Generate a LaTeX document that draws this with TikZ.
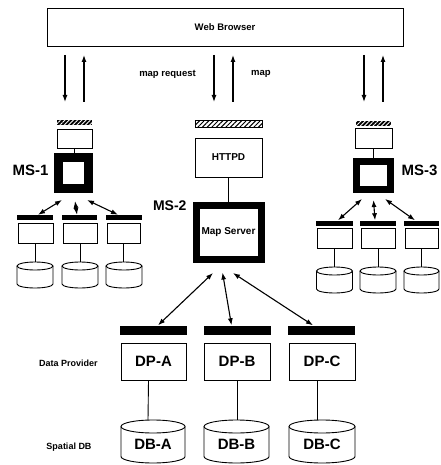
\documentclass[tikz,border=0pt]{standalone}
\usepackage{fontspec}
\setmainfont{Liberation Sans}
\usetikzlibrary{arrows.meta,calc,patterns.meta}
\newcommand\mycyl[8]{% name, cx, cy, w, h, ry, font, label
  \pgfmathsetmacro\myrx{#4/2}
  \draw[line width=0.9pt,fill=white] (#2-\myrx,#3-#5/2+#6) -- (#2-\myrx,#3+#5/2-#6)
     arc[start angle=180,end angle=0,x radius=\myrx,y radius=#6] -- (#2+\myrx,#3-#5/2+#6);
  \draw[line width=0.9pt,fill=white] (#2,#3-#5/2+#6) ellipse[x radius=\myrx,y radius=#6];
  \node[inner sep=0pt,minimum width=#4,minimum height=#5] (#1) at (#2,#3) {};
  \node[font=#7] at (#2,#3+#6/2) {#8};
}
\begin{document}
\begin{tikzpicture}[x=1pt,y=-1pt,
  box/.style={draw,line width=0.9pt,fill=white,inner sep=0pt},
  thickbox/.style={draw,line width=#1,fill=white,inner sep=0pt},
  blackbar/.style={fill=black,inner sep=0pt},
  smallhatch/.style={fill=black,inner sep=0pt,
    postaction={pattern={Lines[angle=45,distance=3pt,line width=0.9pt]},pattern color=white}},
  bighatch/.style={draw,line width=0.9pt,inner sep=0pt,
    pattern={Lines[angle=45,distance=3.3pt,line width=1pt]}},
  conn/.style={line width=0.9pt},
  ar/.style={-{Latex[length=7pt,width=5pt]},line width=1.2pt},
  dar/.style={{Latex[length=7pt,width=5pt]}-{Latex[length=7pt,width=5pt]},line width=1.1pt},
  small/.style={font=\bfseries\fontsize{9.5}{11}\selectfont},
  big/.style={font=\bfseries\fontsize{15}{17}\selectfont}
]
\useasboundingbox (0,0) rectangle (440,465);

% Web browser
\node[box,minimum width=356,minimum height=38,small] (wb) at (225,27) {Web Browser};

% browser arrows
\coordinate (d1a) at (65,55);  \coordinate (d1b) at (65,102);
\coordinate (u1a) at (84,102); \coordinate (u1b) at (84,55);
\coordinate (d2a) at (214,55); \coordinate (d2b) at (214,102);
\coordinate (u2a) at (233,102);\coordinate (u2b) at (233,55);
\coordinate (d3a) at (364,55); \coordinate (d3b) at (364,102);
\coordinate (u3a) at (383,102);\coordinate (u3b) at (383,55);
\draw[ar] (d1a) -- (d1b); \draw[ar] (u1a) -- (u1b);
\draw[ar] (d2a) -- (d2b); \draw[ar] (u2a) -- (u2b);
\draw[ar] (d3a) -- (d3b); \draw[ar] (u3a) -- (u3b);
\node[small] (mreq) at (167.5,74) {map request};
\node[small] (mmap) at (261,74) {map};

% ---------- MS-1 ----------
\node[smallhatch,minimum width=35,minimum height=5] (h1) at (74.5,123) {};
\node[box,minimum width=35,minimum height=19] (s1) at (74.5,139) {};
\node[thickbox=9pt,minimum width=30,minimum height=31] (ms1) at (73.5,173) {};
\draw[conn] (s1.south) -- (s1.south |- ms1.north);
\node[big,anchor=east] (l1) at (52,170) {MS-1};
\node[blackbar,minimum width=36,minimum height=5] (b11) at (35,217.5) {};
\node[blackbar,minimum width=35,minimum height=5] (b12) at (79.5,217.5) {};
\node[blackbar,minimum width=36,minimum height=5] (b13) at (124,217.5) {};
\node[box,minimum width=35,minimum height=20] (d11) at (35.5,233) {};
\node[box,minimum width=34,minimum height=20] (d12) at (80,233) {};
\node[box,minimum width=33,minimum height=20] (d13) at (123.5,233) {};
\mycyl{c11}{35}{275}{36}{26}{4}{\small}{}
\mycyl{c12}{80}{275}{36}{26}{4}{\small}{}
\mycyl{c13}{124}{275}{36}{26}{4}{\small}{}
\draw[conn] (d11.south) -- (d11.south |- c11.north);
\draw[conn] (d12.south) -- (d12.south |- c12.north);
\draw[conn] (d13.south) -- (d13.south |- c13.north);
\draw[dar] ($(ms1.south)+(-11.5,7)$) -- ($(b11.north)+(3,0)$);
\draw[dar] ($(ms1.south)+(1.5,8)$) -- ($(b12.north)+(-2.5,0)$);
\draw[dar] ($(ms1.south)+(13.5,7)$) -- ($(b13.north)+(-6,0)$);

% ---------- MS-3 ----------
\node[smallhatch,minimum width=35,minimum height=5] (h3) at (373.5,123.5) {};
\node[box,minimum width=37,minimum height=20] (s3) at (373.5,138) {};
\node[thickbox=7pt,minimum width=34,minimum height=28] (ms3) at (373.5,175.5) {};
\draw[conn] (s3.south) -- (s3.south |- ms3.north);
\node[big,anchor=west] (l3) at (398,170) {MS-3};
\node[blackbar,minimum width=37,minimum height=5] (b31) at (334.5,223) {};
\node[blackbar,minimum width=36,minimum height=5] (b32) at (378,223) {};
\node[blackbar,minimum width=35,minimum height=5] (b33) at (421.5,223) {};
\node[box,minimum width=35,minimum height=20] (d31) at (334.5,238) {};
\node[box,minimum width=34,minimum height=20] (d32) at (378,238) {};
\node[box,minimum width=33,minimum height=20] (d33) at (421.5,238) {};
\mycyl{c31}{334.5}{280}{36}{26}{4}{\small}{}
\mycyl{c32}{378}{280}{36}{26}{4}{\small}{}
\mycyl{c33}{421.5}{280}{35}{26}{4}{\small}{}
\draw[conn] (d31.south) -- (d31.south |- c31.north);
\draw[conn] (d32.south) -- (d32.south |- c32.north);
\draw[conn] (d33.south) -- (d33.south |- c33.north);
\draw[dar] ($(ms3.south)+(-11.5,6)$) -- ($(b31.north)+(3.5,0)$);
\draw[dar] ($(ms3.south)+(0,7)$) -- ($(b32.north)+(-3,0)$);
\draw[dar] ($(ms3.south)+(11.5,6)$) -- ($(b33.north)+(-6.5,0)$);

% ---------- MS-2 ----------
\node[bighatch,minimum width=67,minimum height=7] (h2) at (228.5,124) {};
\node[box,minimum width=67,minimum height=39,font=\bfseries\fontsize{10}{12}\selectfont] (httpd) at (228.5,157.5) {HTTPD};
\node[thickbox=7pt,minimum width=65,minimum height=54,font=\bfseries\fontsize{10}{12}\selectfont] (ms2) at (228.5,232.5) {Map Server};
\draw[conn] (httpd.south) -- (ms2.north);
\node[font=\bfseries\fontsize{14}{16}\selectfont,anchor=east] (l2) at (190,206) {MS-2};

% data providers
\node[blackbar,minimum width=67,minimum height=9] (ba) at (153.5,330) {};
\node[blackbar,minimum width=67,minimum height=9] (bb) at (237.5,330) {};
\node[blackbar,minimum width=67,minimum height=9] (bc) at (321.5,330) {};
\node[box,minimum width=65,minimum height=37,big] (dpa) at (153.5,361.5) {DP-A};
\node[box,minimum width=66,minimum height=37,big] (dpb) at (237,361.5) {DP-B};
\node[box,minimum width=66,minimum height=37,big] (dpc) at (322,361.5) {DP-C};
\mycyl{dba}{153}{441.5}{64}{43}{6.5}{\bfseries\fontsize{15}{17}\selectfont}{DB-A}
\mycyl{dbb}{236.5}{441.5}{65}{43}{6.5}{\bfseries\fontsize{15}{17}\selectfont}{DB-B}
\mycyl{dbc}{322}{441.5}{66}{43}{6.5}{\bfseries\fontsize{15}{17}\selectfont}{DB-C}
\draw[conn] ($(dpa.south)+(-5,0)$) -- ($(dba.north)+(-5,0)$);
\draw[conn] (dpb.south) -- (dpb.south |- dbb.north);
\draw[conn] ($(dpc.south)+(-5,0)$) -- ($(dbc.north)+(-5,0)$);
\draw[dar] ($(ms2.south)+(-15.5,10)$) -- ($(ba.north)+(4.5,0)$);
\draw[dar] ($(ms2.south)+(-6,9.5)$) -- ($(bb.north)+(-6,0)$);
\draw[dar] ($(ms2.south)+(4.5,10)$) -- ($(bc.north)+(-8.5,0)$);

\node[font=\bfseries\fontsize{9}{11}\selectfont] (tdp) at (68.5,363) {Data Provider};
\node[font=\bfseries\fontsize{9}{11}\selectfont] (tsd) at (69,447) {Spatial DB};
\end{tikzpicture}
\end{document}
